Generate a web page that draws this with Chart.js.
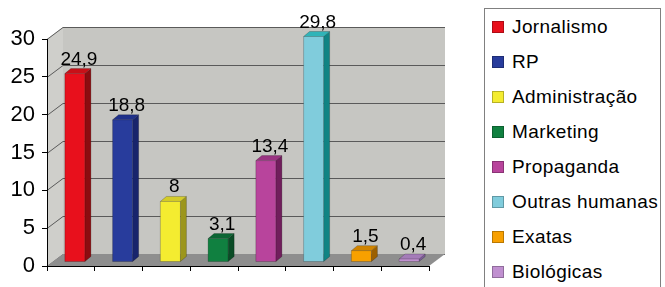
<!DOCTYPE html>
<html>
<head>
<meta charset="utf-8">
<script src="https://cdn.jsdelivr.net/npm/chart.js@4/dist/chart.umd.min.js"></script>
<style>
    body { margin: 0; background: #fff; }
    #wrap { position: relative; width: 665px; height: 287px; overflow: hidden; }
    #legend {
        position: absolute; left: 484px; top: 8px; width: 177px; height: 300px;
        border: 1px solid #808080; box-sizing: border-box; background: #fff;
        font-family: 'Liberation Sans', Arial, sans-serif; font-size: 19px; letter-spacing: 0.4px; color: #000;
    }
    .item { position: absolute; left: 7px; height: 20px; line-height: 20px; white-space: nowrap; display: flex; align-items: center; }
    .sw { width: 12px; height: 12px; margin-right: 8px; box-shadow: inset 0 0 0 1px rgba(0,0,0,0.25); }
</style>
</head>
<body>
<div id="wrap">
    <canvas id="chart" width="665" height="287"></canvas>
    <div id="legend"></div>
</div>
<script>
// Chart data
const categories = ['Jornalismo', 'RP', 'Administração', 'Marketing', 'Propaganda', 'Outras humanas', 'Exatas', 'Biológicas'];
const values = [24.9, 18.8, 8, 3.1, 13.4, 29.8, 1.5, 0.4];
const valueLabels = ['24,9', '18,8', '8', '3,1', '13,4', '29,8', '1,5', '0,4'];
const yTicks = [0, 5, 10, 15, 20, 25, 30];

// Bar colours (front, side, top)
const frontColors = ['#e8101c', '#283c9c', '#f4ec30', '#108040', '#b8449c', '#80ccdc', '#f8a000', '#c090d0'];
const sideColors = ['#8c0c10', '#18246c', '#9c961c', '#0a4c26', '#701e5c', '#108484', '#9c6000', '#7c5c98'];
const topColors = ['#c81018', '#20318a', '#d4cc28', '#0c6634', '#9a3482', '#30b4b8', '#d08400', '#a47cb8'];

// 3D look
const DEPTH_X = 16, DEPTH_Y = 12;     // back wall offset
const BAR_SHIFT = 4;                   // bars sit a bit behind the front edge
const FACE_X = 6, FACE_Y = 5;          // bar side / top depth

const scenePlugin = {
    id: 'scene3d',
    beforeDraw(chart) {
        const { ctx, chartArea: a, scales: { y } } = chart;
        const bx = a.left + DEPTH_X, by = -DEPTH_Y;
        ctx.save();
        // left wall
        ctx.fillStyle = '#cfcfcb';
        ctx.beginPath();
        ctx.moveTo(a.left, a.top);
        ctx.lineTo(bx, a.top + by);
        ctx.lineTo(bx, a.bottom + by);
        ctx.lineTo(a.left, a.bottom);
        ctx.closePath();
        ctx.fill();
        // back wall
        ctx.fillStyle = '#c6c6c2';
        ctx.fillRect(bx, a.top + by, a.right - a.left, a.bottom - a.top);
        // grid lines on back wall + left wall
        ctx.strokeStyle = '#5a5a5a';
        ctx.lineWidth = 1;
        yTicks.forEach(function(t) {
            const py = Math.round(y.getPixelForValue(t)) + 0.5;
            ctx.beginPath();
            ctx.moveTo(a.left, py);
            ctx.lineTo(bx, py + by);
            ctx.lineTo(a.right + DEPTH_X, py + by);
            ctx.stroke();
        });
        // floor
        ctx.fillStyle = '#8e8e8e';
        ctx.beginPath();
        ctx.moveTo(a.left, a.bottom);
        ctx.lineTo(a.right, a.bottom);
        ctx.lineTo(a.right + DEPTH_X, a.bottom + by);
        ctx.lineTo(bx, a.bottom + by);
        ctx.closePath();
        ctx.fill();
        ctx.restore();
    },
    beforeDatasetsDraw(chart) {
        chart.ctx.save();
        chart.ctx.translate(BAR_SHIFT, -BAR_SHIFT);
    },
    afterDatasetsDraw(chart) {
        const ctx = chart.ctx;
        const meta = chart.getDatasetMeta(0);
        meta.data.forEach(function(bar, i) {
            const l = bar.x - bar.width / 2, r = bar.x + bar.width / 2;
            const t = bar.y, b = bar.base;
            // side face
            ctx.fillStyle = sideColors[i];
            ctx.beginPath();
            ctx.moveTo(r, t);
            ctx.lineTo(r + FACE_X, t - FACE_Y);
            ctx.lineTo(r + FACE_X, b - FACE_Y);
            ctx.lineTo(r, b);
            ctx.closePath();
            ctx.fill();
            // top face
            ctx.fillStyle = topColors[i];
            ctx.beginPath();
            ctx.moveTo(l, t);
            ctx.lineTo(l + FACE_X, t - FACE_Y);
            ctx.lineTo(r + FACE_X, t - FACE_Y);
            ctx.lineTo(r, t);
            ctx.closePath();
            ctx.fill();
            // thin outline
            ctx.strokeStyle = 'rgba(0,0,0,0.35)';
            ctx.lineWidth = 0.6;
            ctx.beginPath();
            ctx.moveTo(l, b);
            ctx.lineTo(l, t);
            ctx.lineTo(l + FACE_X, t - FACE_Y);
            ctx.lineTo(r + FACE_X, t - FACE_Y);
            ctx.lineTo(r + FACE_X, b - FACE_Y);
            ctx.lineTo(r, b);
            ctx.closePath();
            ctx.moveTo(r, b);
            ctx.lineTo(r, t);
            ctx.lineTo(l, t);
            ctx.moveTo(r, t);
            ctx.lineTo(r + FACE_X, t - FACE_Y);
            ctx.stroke();
        });
        // value labels
        ctx.fillStyle = '#000';
        ctx.font = "19px 'Liberation Sans', Arial, sans-serif";
        ctx.textAlign = 'center';
        ctx.textBaseline = 'alphabetic';
        meta.data.forEach(function(bar, i) {
            ctx.fillText(valueLabels[i], bar.x + 4, bar.y - 9);
        });
        ctx.restore();
    }
};

new Chart(document.getElementById('chart'), {
    type: 'bar',
    data: {
        labels: categories,
        datasets: [{
            data: values,
            backgroundColor: frontColors,
            borderWidth: 0,
            barPercentage: 0.42,
            categoryPercentage: 1
        }]
    },
    options: {
        responsive: false,
        animation: false,
        events: [],
        layout: { padding: { left: 0, right: 236, top: 39, bottom: 16 } },
        plugins: { legend: { display: false }, tooltip: { enabled: false } },
        scales: {
            x: {
                offset: true,
                grid: { drawOnChartArea: false, drawTicks: true, tickLength: 5, offset: true, color: '#000' },
                border: { display: true, color: '#000' },
                ticks: { display: false }
            },
            y: {
                min: 0,
                max: 30,
                afterFit: function(scale) { scale.width = 47; },
                afterBuildTicks: function(scale) { scale.ticks = yTicks.map(v => ({ value: v })); },
                grid: { drawOnChartArea: false, drawTicks: true, tickLength: 5, color: '#000' },
                border: { display: true, color: '#000' },
                ticks: {
                    padding: 7,
                    color: '#000',
                    font: { family: "'Liberation Sans', Arial, sans-serif", size: 22 }
                }
            }
        }
    },
    plugins: [scenePlugin]
});

// HTML legend
const legendEl = document.getElementById('legend');
categories.forEach(function(name, i) {
    const item = document.createElement('div');
    item.className = 'item';
    item.style.top = (8 + i * 35) + 'px';
    item.innerHTML = '<span class="sw" style="background:' + frontColors[i] + '"></span>' + name;
    legendEl.appendChild(item);
});
</script>
</body>
</html>
